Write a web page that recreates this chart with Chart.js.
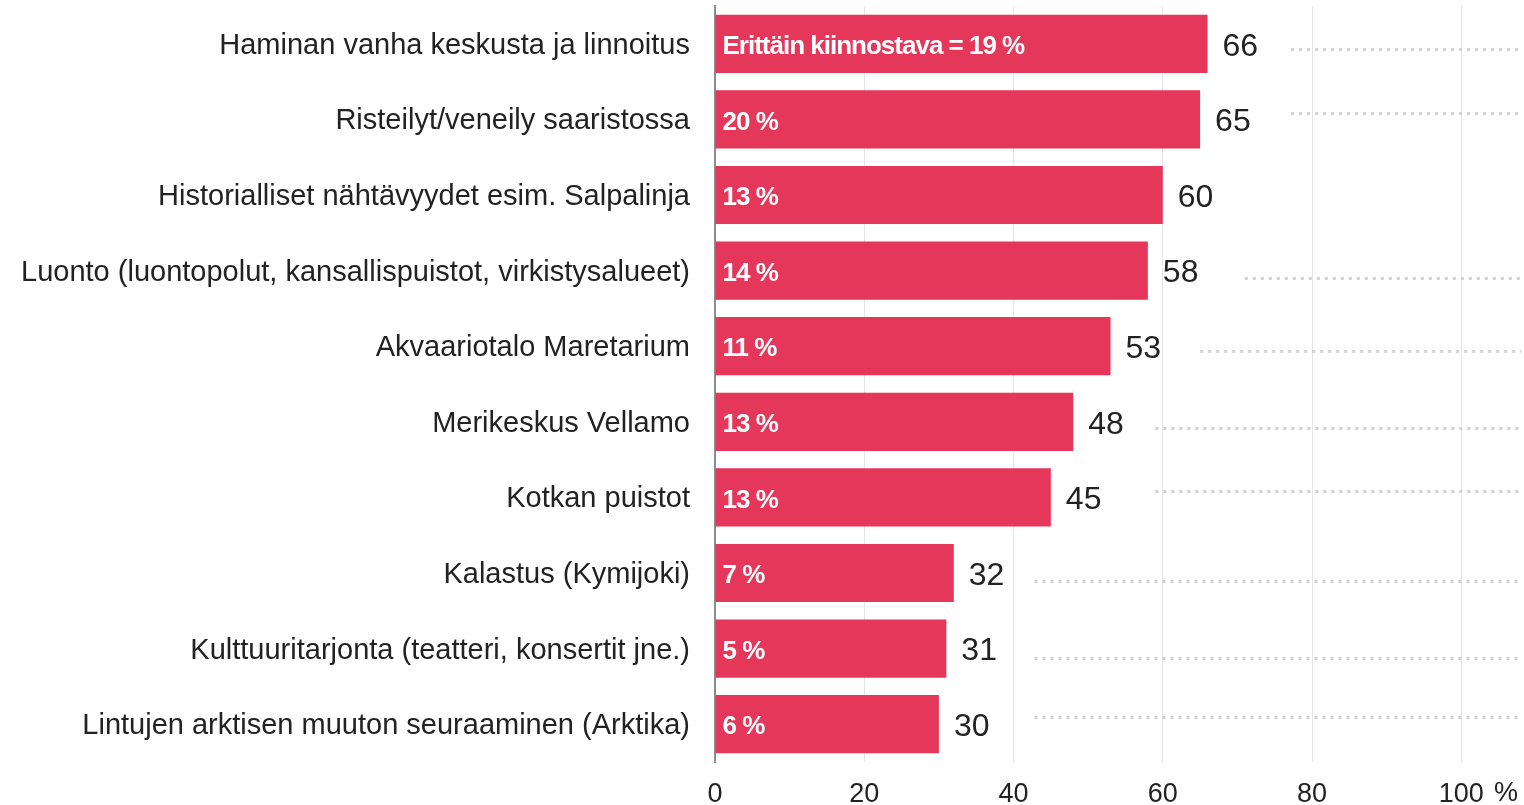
<!DOCTYPE html>
<html>
<head>
<meta charset="utf-8">
<script src="https://cdn.jsdelivr.net/npm/chart.js@4"></script>
<style>
  html, body { margin: 0; padding: 0; background: #fff; }
  #wrap { width: 1524px; height: 805px; position: relative; }
</style>
</head>
<body>
<div id="wrap"><canvas id="chart"></canvas></div>
<script>
const categories = [
    'Haminan vanha keskusta ja linnoitus',
    'Risteilyt/veneily saaristossa',
    'Historialliset nähtävyydet esim. Salpalinja',
    'Luonto (luontopolut, kansallispuistot, virkistysalueet)',
    'Akvaariotalo Maretarium',
    'Merikeskus Vellamo',
    'Kotkan puistot',
    'Kalastus (Kymijoki)',
    'Kulttuuritarjonta (teatteri, konsertit jne.)',
    'Lintujen arktisen muuton seuraaminen (Arktika)'
];
const totals = [66, 65, 60, 58, 53, 48, 45, 32, 31, 30];
const veryInterested = [19, 20, 13, 14, 11, 13, 13, 7, 5, 6];
const firstLabelPrefix = 'Erittäin kiinnostava = ';
const xTicks = [0, 20, 40, 60, 80, 100];
// faint dotted guide lines on the right: start value and row offset (category units)
const dotStart = [77.2, 77.2, null, 71, 65, 59, 59, 42.8, 42.8, 42.8];
const dotOffset = [0.07, -0.09, 0, 0.1, 0.07, 0.08, -0.09, 0.1, 0.12, -0.09];
const dotEnd = 108;

const FONT = '"Liberation Sans", Arial, sans-serif';
const TEXT = '#222222';
const BAR = '#e4375a';

// dotted guides, drawn before the bars through the x and y scales
const dotLines = {
    id: 'dotLines',
    beforeDatasetsDraw(chart) {
        const ctx = chart.ctx;
        const x = chart.scales.x, y = chart.scales.y;
        ctx.save();
        ctx.strokeStyle = '#d2d2d2';
        ctx.lineWidth = 3;
        ctx.setLineDash([3, 5]);
        ctx.lineCap = 'butt';
        dotStart.forEach((s, i) => {
            if (s === null) return;
            const py = Math.round(y.getPixelForValue(i + dotOffset[i])) + 0.5;
            ctx.beginPath();
            ctx.moveTo(x.getPixelForValue(s), py);
            ctx.lineTo(x.getPixelForValue(dotEnd), py);
            ctx.stroke();
        });
        ctx.restore();
    }
};

const barLabels = {
    id: 'barLabels',
    afterDatasetsDraw(chart) {
        const ctx = chart.ctx;
        const meta = chart.getDatasetMeta(0);
        ctx.save();
        meta.data.forEach((bar, i) => {
            // value at the end of the bar
            ctx.font = '32px ' + FONT;
            ctx.fillStyle = TEXT;
            ctx.textAlign = 'left';
            ctx.textBaseline = 'middle';
            ctx.fillText(String(totals[i]), bar.x + 15, bar.y + 3);
            // share of "very interested" inside the bar
            ctx.font = 'bold 26px ' + FONT;
            ctx.fillStyle = '#ffffff';
            ctx.letterSpacing = '-1px';
            const txt = (i === 0 ? firstLabelPrefix : '') + veryInterested[i] + ' %';
            ctx.fillText(txt, bar.base + 7, bar.y + 3);
            ctx.letterSpacing = '0px';
        });
        // unit after the last tick
        const x = chart.scales.x;
        ctx.font = '27px ' + FONT;
        ctx.fillStyle = TEXT;
        ctx.textAlign = 'center';
        ctx.textBaseline = 'middle';
        ctx.fillText('%', x.getPixelForValue(106), chart.chartArea.bottom + 32);
        ctx.restore();
    }
};

new Chart(document.getElementById('chart'), {
    type: 'bar',
    data: {
        labels: categories,
        datasets: [{
            data: totals,
            backgroundColor: BAR,
            borderWidth: 0,
            grouped: false,
            categoryPercentage: 1,
            barPercentage: 0.77
        }]
    },
    options: {
        indexAxis: 'y',
        responsive: true,
        maintainAspectRatio: false,
        animation: false,
        events: [],
        layout: { padding: { top: 6, right: 3, left: 0, bottom: 0 } },
        plugins: { legend: { display: false }, tooltip: { enabled: false } },
        scales: {
            x: {
                type: 'linear',
                min: 0,
                max: dotEnd,
                afterBuildTicks(scale) { scale.ticks = xTicks.map(v => ({ value: v })); },
                afterFit(scale) { scale.height = 43; scale.paddingLeft = 0; scale.paddingRight = 0; },
                grid: { color: '#e6e6e6', lineWidth: 1, drawTicks: false },
                border: { display: false },
                ticks: { font: { family: FONT, size: 27 }, color: TEXT, padding: 16, maxRotation: 0 }
            },
            y: {
                type: 'category',
                afterFit(scale) { scale.width = 715; scale.paddingTop = 0; scale.paddingBottom = 0; },
                grid: { display: false },
                border: { display: true, color: '#8c8c8c', width: 2 },
                ticks: { font: { family: FONT, size: 29 }, color: TEXT, padding: 17, labelOffset: 2, autoSkip: false }
            }
        }
    },
    plugins: [dotLines, barLabels]
});
</script>
</body>
</html>
